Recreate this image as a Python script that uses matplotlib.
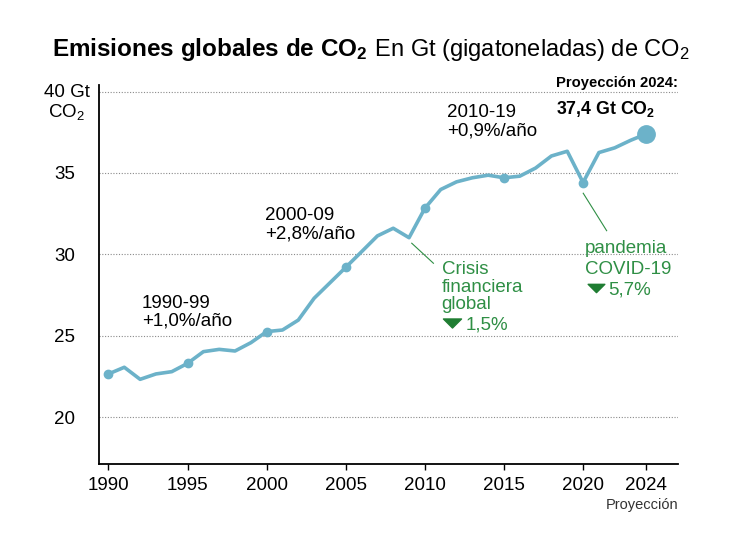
import matplotlib
matplotlib.use('Agg')
import matplotlib.pyplot as plt
from matplotlib.path import Path

# ---------------- data ----------------
years = list(range(1990, 2025))
emissions = [22.65, 23.06, 22.32, 22.65, 22.79, 23.30, 24.02, 24.16, 24.06, 24.57,
             25.25, 25.35, 25.96, 27.30, 28.25, 29.20, 30.16, 31.13, 31.60, 31.02,
             32.83, 33.98, 34.45, 34.70, 34.86, 34.70, 34.80, 35.30, 36.04, 36.33,
             34.41, 36.25, 36.54, 37.00, 37.40]
marker_years = [1990, 1995, 2000, 2005, 2010, 2015, 2020]
projection_year = 2024
x_ticks = [1990, 1995, 2000, 2005, 2010, 2015, 2020, 2024]
y_ticks = [20, 25, 30, 35]
y_tick_labels = ['20', '25', '30', '35']

title_bold = r'Emisiones globales de CO$_\mathbf{2}$'
title_regular = r' En Gt (gigatoneladas) de CO$_2$'

# ---------------- style ----------------
plt.rcParams['font.family'] = ['Liberation Sans', 'DejaVu Sans']
plt.rcParams['mathtext.fontset'] = 'custom'
plt.rcParams['mathtext.rm'] = 'Liberation Sans'
plt.rcParams['mathtext.bf'] = 'Liberation Sans:bold'
plt.rcParams['mathtext.it'] = 'Liberation Sans:italic'

LINE = '#6cb2c9'
GREEN = '#2f8f45'
GREEN_DARK = '#1f7d32'
FS = 13.5

fig = plt.figure(figsize=(7.5, 5.44), dpi=100)
ax = fig.add_axes([99.3 / 750, 1 - 464.3 / 544, (678 - 99.3) / 750, (464.3 - 85) / 544])
ax.set_xlim(1989.42, 2026.0)
ax.set_ylim(17.10, 40.40)

for s in ['top', 'right']:
    ax.spines[s].set_visible(False)
for s in ['left', 'bottom']:
    ax.spines[s].set_linewidth(1.3)
    ax.spines[s].set_color('black')

# grid
ax.set_yticks(y_ticks + [40])
ax.set_yticklabels(y_tick_labels + [''])
ax.tick_params(axis='y', length=0, pad=17.5, labelsize=FS)
ax.yaxis.grid(True, color='#8a8a8a', linestyle=(0, (1, 1.5)), linewidth=0.8)
ax.set_axisbelow(True)

ax.set_xticks(x_ticks)
ax.set_xticklabels([str(y) for y in x_ticks])
ax.tick_params(axis='x', direction='out', length=4.5, width=1, pad=5, labelsize=FS)

# line
ax.plot(years, emissions, color=LINE, linewidth=2.6, solid_capstyle='round',
        solid_joinstyle='round', zorder=3)
mv = [emissions[years.index(y)] for y in marker_years]
ax.plot(marker_years, mv, 'o', color=LINE, markersize=6, zorder=4)
ax.plot([projection_year], [emissions[years.index(projection_year)]], 'o', color=LINE,
        markersize=12.5, zorder=5)

# y label for 40
ytr = ax.get_yaxis_transform()
ax.text(-0.0554, 39.68, '40 Gt', transform=ytr, ha='center', va='baseline', fontsize=FS)
ax.text(-0.0568, 38.45, r'CO$_2$', transform=ytr, ha='center', va='baseline', fontsize=FS)

# "Proyección" under 2024
ax.text(1.0, -0.107, 'Proyección', transform=ax.transAxes, ha='right', va='center',
        fontsize=10.5, color='#333333')

# period annotations
def lines(x, y0, texts, dy, **kw):
    for i, t in enumerate(texts):
        ax.text(x, y0 - i * dy, t, ha='left', va='baseline', **kw)

lines(1992.10, 26.68, ['1990-99', '+1,0%/año'], 1.05, fontsize=FS)
lines(1999.89, 32.11, ['2000-09', '+2,8%/año'], 1.15, fontsize=FS)
lines(2011.38, 38.41, ['2010-19', '+0,9%/año'], 1.14, fontsize=FS)

# projection callout
ax.text(2018.29, 40.30, 'Proyección 2024:', ha='left', va='baseline', fontsize=10.6,
        fontweight='bold')
ax.text(2018.29, 38.60, r'37,4 Gt CO$_\mathbf{2}$', ha='left', va='baseline', fontsize=12.8,
        fontweight='bold')

# green annotations
tri = Path([(-1, 0.5), (1, 0.5), (0, -0.5), (-1, 0.5)],
           [Path.MOVETO, Path.LINETO, Path.LINETO, Path.CLOSEPOLY])

ax.plot([2009.17, 2010.54], [30.68, 29.45], color=GREEN, linewidth=0.8)
lines(2011.06, 28.79, ['Crisis', 'financiera', 'global'], 1.08, fontsize=FS, color=GREEN)
ax.plot([2011.70], [25.76], marker=tri, markersize=13, color=GREEN_DARK, linestyle='none')
ax.text(2012.60, 25.35, '1,5%', ha='left', va='baseline', fontsize=FS, color=GREEN)

ax.plot([2020.01, 2021.49], [33.75, 31.45], color=GREEN, linewidth=0.8)
lines(2020.12, 30.10, ['pandemia', 'COVID-19'], 1.31, fontsize=FS, color=GREEN)
ax.plot([2020.80], [27.94], marker=tri, markersize=12, color=GREEN_DARK, linestyle='none')
ax.text(2021.59, 27.50, '5,7%', ha='left', va='baseline', fontsize=FS, color=GREEN)

# title, pieces placed in sequence
renderer = fig.canvas.get_renderer()
x = 52 / 750
ty = 1 - 56 / 544
t1 = fig.text(x, ty, title_bold, ha='left', va='baseline', fontsize=17.5,
              fontweight='bold')
bb = t1.get_window_extent(renderer)
x = bb.x1 / fig.bbox.width
fig.text(x, ty, title_regular, ha='left', va='baseline', fontsize=17)

fig.savefig('out.png', dpi=100)
